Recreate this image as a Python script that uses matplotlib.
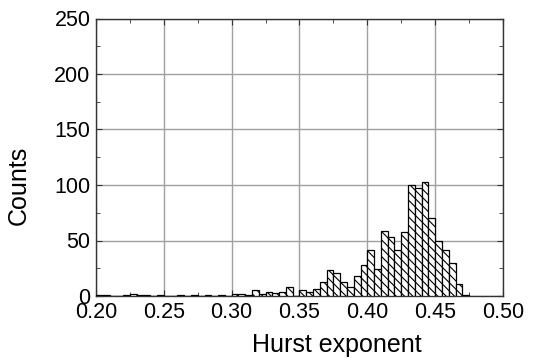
import numpy as np
import matplotlib
matplotlib.use("Agg")
import matplotlib.pyplot as plt

plt.rcParams['font.family'] = ['Liberation Sans', 'DejaVu Sans']
plt.rcParams['hatch.linewidth'] = 0.8

# bin left edges (width 0.005) and counts
bin_width = 0.005
bin_lefts = [0.200, 0.205, 0.210, 0.215, 0.220, 0.225, 0.230, 0.235, 0.240, 0.245,
             0.250, 0.255, 0.260, 0.265, 0.270, 0.275, 0.280, 0.285, 0.290, 0.295,
             0.300, 0.305, 0.310, 0.315, 0.320, 0.325, 0.330, 0.335, 0.340, 0.345,
             0.350, 0.355, 0.360, 0.365, 0.370, 0.375, 0.380, 0.385, 0.390, 0.395,
             0.400, 0.405, 0.410, 0.415, 0.420, 0.425, 0.430, 0.435, 0.440, 0.445,
             0.450, 0.455, 0.460, 0.465, 0.470]
counts = [1, 1, 0, 0, 1, 2, 1, 1, 0, 1,
          0, 0, 1, 0, 1, 0, 1, 0, 1, 0,
          2, 2, 1, 5, 2, 4, 3, 4, 8, 0,
          5, 4, 6, 13, 23, 21, 13, 8, 18, 28,
          41, 24, 59, 53, 41, 58, 100, 97, 103, 70,
          50, 41, 30, 11, 1]

x_ticks = [0.20, 0.25, 0.30, 0.35, 0.40, 0.45, 0.50]
x_tick_labels = ["0.20", "0.25", "0.30", "0.35", "0.40", "0.45", "0.50"]
y_ticks = [0, 50, 100, 150, 200, 250]

fig = plt.figure(figsize=(5.34, 3.58), dpi=100)
ax = fig.add_axes([96/534, 62/358, (503-96)/534, (296-18.5)/358])

ax.bar(bin_lefts, counts, width=bin_width, align='edge', facecolor='white',
       edgecolor='black', linewidth=0.9, hatch='\\\\\\\\', zorder=3)

ax.set_xlim(0.20, 0.50)
ax.set_ylim(0, 250)
ax.set_xticks(x_ticks)
ax.set_xticklabels(x_tick_labels)
ax.set_yticks(y_ticks)
ax.set_xticks([0.225, 0.275, 0.325, 0.375, 0.425, 0.475], minor=True)
ax.set_yticks([25, 75, 125, 175, 225], minor=True)
ax.grid(True, which='major', color='#a0a0a0', linewidth=1.0, zorder=0)
ax.set_axisbelow(True)

ax.tick_params(which='both', direction='in', top=True, right=True, labelsize=15.5,
               color='#333333')
ax.tick_params(which='major', length=4, pad=4)
ax.tick_params(which='minor', length=3)
for s in ax.spines.values():
    s.set_color('#333333')
    s.set_linewidth(1.0)

ax.set_xlabel("Hurst exponent", fontsize=18, va='center')
ax.xaxis.set_label_coords(0.592, -0.178)
ax.set_ylabel("Counts", fontsize=18, va='center')
ax.yaxis.set_label_coords(-0.19, 0.40)

fig.savefig("out.png", dpi=100)
